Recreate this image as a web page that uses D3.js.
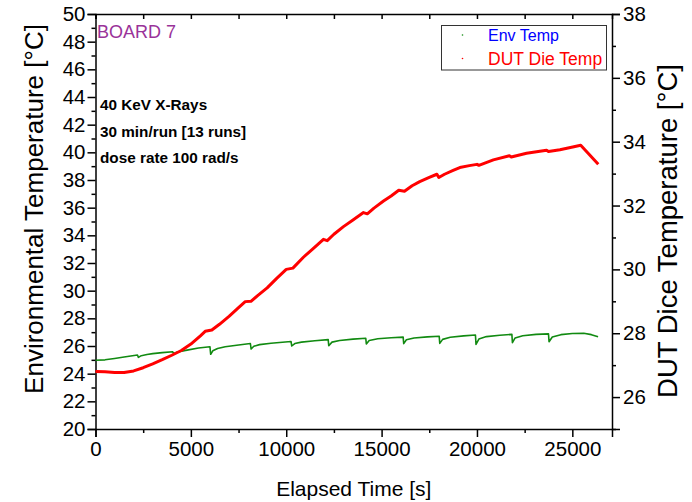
<!DOCTYPE html>
<html>
<head>
<meta charset="utf-8">
<script src="https://cdn.jsdelivr.net/npm/d3@7/dist/d3.min.js"></script>
<style>
  body { margin: 0; background: #fff; }
  text { font-family: "Liberation Sans", Arial, sans-serif; }
</style>
</head>
<body>
<svg id="chart" width="692" height="502"></svg>
<script>
// Environmental temperature (left axis, °C) vs elapsed time (s)
const envTime = [0, 500, 1000, 1500, 2200, 2250, 2400, 2700, 3000, 3500, 4050, 4100, 4300, 4800, 5400,
  6000, 6040, 6150, 6400, 6800, 7400, 8120, 8160, 8300, 8600, 9200, 10250, 10290, 10450, 10800, 11500,
  12200, 12230, 12400, 12800, 13500, 14170, 14200, 14350, 14800, 15500, 16130, 16160, 16300, 16700,
  17400, 18020, 18050, 18200, 18600, 19300, 19920, 19950, 20100, 20500, 21200, 21830, 21860, 22000,
  22400, 23100, 23750, 23780, 23950, 24400, 25000, 25600, 26000, 26350];
const envTemp = [24.97, 25.0, 25.1, 25.2, 25.35, 25.18, 25.3, 25.38, 25.45, 25.52, 25.58, 25.45, 25.56, 25.7, 25.85,
  25.95, 25.40, 25.65, 25.82, 25.95, 26.05, 26.18, 25.78, 25.98, 26.1, 26.2, 26.33, 26.0, 26.18, 26.28, 26.38,
  26.46, 26.02, 26.28, 26.4, 26.5, 26.56, 26.15, 26.4, 26.52, 26.6, 26.64, 26.17, 26.45, 26.58,
  26.66, 26.71, 26.19, 26.48, 26.63, 26.73, 26.79, 26.12, 26.5, 26.68, 26.78, 26.84, 26.24, 26.58,
  26.74, 26.84, 26.88, 26.31, 26.65, 26.82, 26.9, 26.92, 26.82, 26.67];

// DUT die temperature (right axis, °C) vs elapsed time (s)
const dutTime = [0, 500, 1000, 1500, 2000, 2500, 3000, 3500, 4000, 4500, 5000, 5500, 5750, 6100, 6500,
  7000, 7500, 7850, 8150, 8500, 9000, 9500, 10000, 10350, 10900, 11500, 11950, 12150, 12500, 13000,
  13500, 14050, 14250, 14600, 15100, 15500, 15900, 16200, 16600, 17000, 17500, 17900, 18000, 18300,
  18750, 19100, 19600, 20000, 20100, 20860, 21700, 21800, 22600, 23650, 23750, 24350, 24900, 25440, 26360];
const dutTemp = [26.80, 26.79, 26.77, 26.77, 26.82, 26.92, 27.04, 27.17, 27.31, 27.46, 27.66, 27.92, 28.06, 28.10, 28.28,
  28.53, 28.80, 28.99, 29.00, 29.18, 29.42, 29.72, 30.00, 30.04, 30.38, 30.70, 30.94, 30.90, 31.10, 31.34,
  31.55, 31.78, 31.74, 31.92, 32.14, 32.30, 32.48, 32.45, 32.62, 32.75, 32.88, 32.98, 32.88, 32.98,
  33.10, 33.19, 33.25, 33.29, 33.26, 33.43, 33.56, 33.52, 33.64, 33.73, 33.69, 33.75, 33.82, 33.89, 33.29];

const xTicks = [0, 5000, 10000, 15000, 20000, 25000];
const xMinorTicks = [2500, 7500, 12500, 17500, 22500];
const leftTicks = d3.range(20, 51, 2);
const leftMinorTicks = d3.range(21, 50, 2);
const rightTicks = d3.range(26, 39, 2);
const rightMinorTicks = d3.range(25, 38, 2);

const seriesNames = ["Env Temp", "DUT Die Temp"];
const notes = ["40 KeV X-Rays", "30 min/run [13 runs]", "dose rate 100 rad/s"];
const boardLabel = "BOARD 7";

const plot = { left: 95.5, right: 612, top: 14, bottom: 429 };
const svg = d3.select("#chart");

const x = d3.scaleLinear().domain([0, 27080]).range([plot.left, plot.right]);
const yL = d3.scaleLinear().domain([20, 50]).range([plot.bottom, plot.top]);
const yR = d3.scaleLinear().domain([25, 38]).range([plot.bottom, plot.top]);

const axisStroke = 1.5;
function styleAxis(g) {
  g.select(".domain").attr("stroke", "#000").attr("stroke-width", axisStroke);
  g.selectAll(".tick line").attr("stroke", "#000").attr("stroke-width", axisStroke);
  g.selectAll("text").attr("fill", "#000").style("font-size", "20.5px")
    .style("font-family", '"Liberation Sans", Arial, sans-serif');
}
function minorStyle(g) {
  g.select(".domain").remove();
  g.selectAll("line").attr("stroke", "#000").attr("stroke-width", axisStroke);
}

// bottom axis
const gx = svg.append("g").attr("transform", `translate(0,${plot.bottom})`)
  .call(d3.axisBottom(x).tickValues(xTicks).tickSize(8).tickPadding(4).tickFormat(d3.format("d")));
styleAxis(gx);
svg.append("g").attr("transform", `translate(0,${plot.bottom})`)
  .call(d3.axisBottom(x).tickValues(xMinorTicks).tickSize(4).tickFormat(""))
  .call(minorStyle);

// top frame with inward ticks
const gt = svg.append("g").attr("transform", `translate(0,${plot.top})`)
  .call(d3.axisBottom(x).tickValues(xTicks.concat(xMinorTicks)).tickSize(5).tickFormat(""));
gt.select(".domain").attr("stroke", "#000").attr("stroke-width", axisStroke);
gt.selectAll("line").attr("stroke", "#000").attr("stroke-width", axisStroke);

// left axis
const gl = svg.append("g").attr("transform", `translate(${plot.left},0)`)
  .call(d3.axisLeft(yL).tickValues(leftTicks).tickSize(8).tickPadding(2));
styleAxis(gl);
svg.append("g").attr("transform", `translate(${plot.left},0)`)
  .call(d3.axisLeft(yL).tickValues(leftMinorTicks).tickSize(4).tickFormat(""))
  .call(minorStyle);

// right axis
const gr = svg.append("g").attr("transform", `translate(${plot.right},0)`)
  .call(d3.axisRight(yR).tickValues(rightTicks).tickSize(8).tickPadding(3));
styleAxis(gr);
svg.append("g").attr("transform", `translate(${plot.right},0)`)
  .call(d3.axisRight(yR).tickValues(rightMinorTicks).tickSize(4).tickFormat(""))
  .call(minorStyle);

// axis titles
svg.append("text").attr("x", (plot.left + plot.right) / 2).attr("y", 496)
  .attr("text-anchor", "middle").style("font-size", "21px").text("Elapsed Time [s]");
svg.append("text").attr("transform", "translate(43,209) rotate(-90)")
  .attr("text-anchor", "middle").style("font-size", "26px").text("Environmental Temperature [°C]");
svg.append("text").attr("transform", "translate(677,231) rotate(-90)")
  .attr("text-anchor", "middle").style("font-size", "27.5px").text("DUT Dice Temperature [°C]");

// series lines
const envLine = d3.line().x(i => x(envTime[i])).y(i => yL(envTemp[i]));
const dutLine = d3.line().x(i => x(dutTime[i])).y(i => yR(dutTemp[i]));

svg.append("path").attr("d", envLine(d3.range(envTime.length)))
  .attr("fill", "none").attr("stroke", "#118a11").attr("stroke-width", 1.6).attr("stroke-linejoin", "round");
svg.append("path").attr("d", dutLine(d3.range(dutTime.length)))
  .attr("fill", "none").attr("stroke", "#ff0000").attr("stroke-width", 3).attr("stroke-linejoin", "round");

// annotations
svg.append("text").attr("x", 97).attr("y", 38).attr("fill", "#993399")
  .style("font-size", "18px").text(boardLabel);
notes.forEach((t, i) => {
  svg.append("text").attr("x", 100).attr("y", 110 + i * 26.5)
    .style("font-size", "15.3px").style("font-weight", "bold").attr("fill", "#000").text(t);
});

// legend
const legend = svg.append("g");
legend.append("rect").attr("x", 441.5).attr("y", 25.5).attr("width", 165).attr("height", 44.5)
  .attr("fill", "#fff").attr("stroke", "#333").attr("stroke-width", 1);
const legendColors = ["#118a11", "#ff0000"];
const legendText = ["#0000ff", "#ff0000"];
const legendSize = [16, 17.5];
seriesNames.forEach((name, i) => {
  legend.append("circle").attr("cx", 462.5).attr("cy", 35 + i * 23.5).attr("r", 0.8)
    .attr("fill", legendColors[i]);
  legend.append("text").attr("x", 488).attr("y", 41 + i * 23.5).attr("fill", legendText[i])
    .style("font-size", legendSize[i] + "px").text(name);
});
</script>
</body>
</html>
